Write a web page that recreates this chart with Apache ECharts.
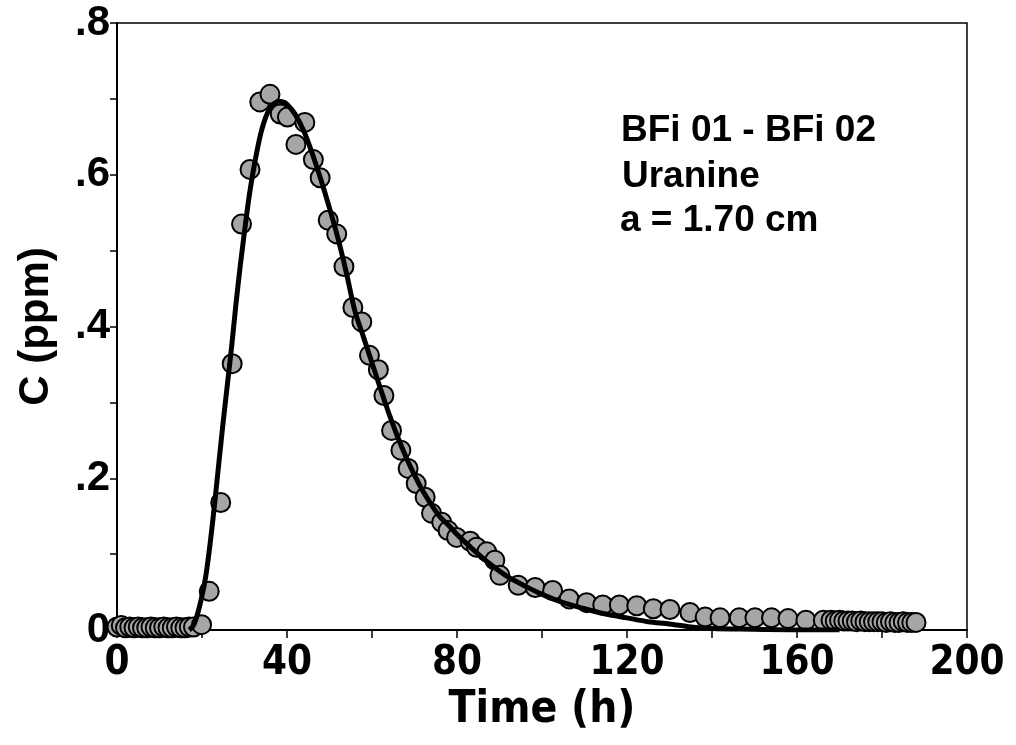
<!DOCTYPE html>
<html>
<head>
<meta charset="utf-8">
<script src="https://cdn.jsdelivr.net/npm/echarts@6/dist/echarts.min.js"></script>
<style>
html,body{margin:0;padding:0;background:#fff;}
#chart{width:1016px;height:745px;}
</style>
</head>
<body>
<div id="chart"></div>
<script>
// Measured concentrations (t in h, C in ppm)
var obsTime = [0,1,2,3,4,5,6,7,8,9,10,11,12,13,14,15,16,17,18,
  19.9,21.7,24.4,27.1,29.3,31.3,33.6,36.0,38.4,40.1,42.1,44.2,46.2,47.8,49.7,51.7,53.4,55.5,57.6,59.4,61.5,62.8,64.6,66.8,
  68.5,70.4,72.5,74.0,76.4,77.9,79.9,83.1,84.6,87.0,88.9,90.1,94.4,98.4,102.5,106.4,110.5,114.3,118.2,122.3,126.2,130.1,
  134.8,138.4,141.9,146.4,150.1,154.0,157.9,162.1,166.2,
  168,169,170,171,172,173,174,175,176,177,178,179,180,181,182,183,184,185,186,187,188];
var obsConc = [0.004,0.006,0.003,0.004,0.003,0.004,0.003,0.003,0.004,0.003,0.003,0.004,0.003,0.003,0.004,0.003,0.003,0.004,0.004,
  0.007,0.051,0.168,0.351,0.535,0.607,0.696,0.706,0.680,0.676,0.640,0.669,0.620,0.596,0.540,0.522,0.479,0.425,0.406,0.362,0.343,0.309,0.263,0.237,
  0.213,0.193,0.175,0.154,0.142,0.131,0.122,0.117,0.109,0.103,0.092,0.072,0.059,0.056,0.052,0.041,0.036,0.033,0.033,0.032,0.028,0.027,
  0.023,0.017,0.016,0.016,0.016,0.016,0.015,0.013,0.013,
  0.013,0.012,0.013,0.012,0.012,0.012,0.011,0.012,0.011,0.011,0.011,0.011,0.011,0.010,0.011,0.010,0.010,0.011,0.010,0.010,0.010];

// Fitted model curve
var fitTime = [17,18,19,20,21,22,23,24,25,26,27,28,29,30,31,32,33,34,35,36,37,38,39,40,42,44,46,48,50,52,54,56,58,60,62,64,66,68,70,72,74,76,78,80,84,88,92,96,100,105,110,115,120,125,130,135,140,150,160,170];
var fitConc = [0,0.006,0.022,0.045,0.075,0.118,0.168,0.222,0.275,0.325,0.375,0.43,0.48,0.525,0.568,0.603,0.633,0.658,0.676,0.688,0.694,0.697,0.696,0.693,0.679,0.657,0.627,0.593,0.556,0.516,0.470,0.420,0.386,0.352,0.318,0.285,0.255,0.228,0.204,0.183,0.165,0.149,0.138,0.126,0.105,0.086,0.070,0.058,0.047,0.036,0.028,0.021,0.016,0.011,0.008,0.004,0.002,0.001,0,0];

var xTickLabels = ['0','40','80','120','160','200'];
var yTickLabels = ['0','.2','.4','.6','.8'];

function zip(a,b){var r=[];for(var i=0;i<a.length;i++)r.push([a[i],b[i]]);return r;}

var narrow = "'Liberation Sans Narrow','DejaVu Sans Condensed','Liberation Sans',sans-serif";
var sans = "'Liberation Sans',Arial,sans-serif";

var chart = echarts.init(document.getElementById('chart'), null, {renderer:'canvas'});
chart.setOption({
  backgroundColor:'#ffffff',
  animation:false,
  grid:{left:117,right:49,top:23,bottom:115,show:true,borderColor:'#000',borderWidth:1.5,backgroundColor:'transparent'},
  xAxis:{
    type:'value',min:0,max:200,interval:20,
    name:'Time (h)',nameLocation:'middle',nameGap:52,
    nameTextStyle:{fontFamily:narrow,fontWeight:'bold',fontSize:44,color:'#000'},
    axisLine:{show:true,lineStyle:{color:'#000',width:2}},
    axisTick:{show:true,inside:false,length:8,lineStyle:{color:'#000',width:1.5}},
    axisLabel:{margin:14,fontFamily:narrow,fontWeight:'bold',fontSize:40,color:'#000',
      formatter:function(v){var i=Math.round(v/40);return (Math.abs(v-i*40)<1e-6)?xTickLabels[i]:'';}},
    splitLine:{show:false}
  },
  yAxis:{
    type:'value',min:0,max:0.8,interval:0.1,
    name:'C (ppm)',nameLocation:'middle',nameGap:60,nameRotate:90,
    nameTextStyle:{fontFamily:sans,fontWeight:'bold',fontSize:42,color:'#000'},
    axisLine:{show:true,lineStyle:{color:'#000',width:2}},
    axisTick:{show:true,inside:false,length:7,lineStyle:{color:'#000',width:1.5}},
    axisLabel:{margin:7,fontFamily:sans,fontWeight:'bold',fontSize:42,color:'#000',
      formatter:function(v){var k=Math.round(v*10);return (k%2===0)?yTickLabels[k/2]:'';}},
    splitLine:{show:false}
  },
  graphic:[
    {type:'text',left:621,top:112,style:{text:'BFi 01 - BFi 02',font:'bold 37px '+sans,fill:'#000'}},
    {type:'text',left:622,top:158,style:{text:'Uranine',font:'bold 37px '+sans,fill:'#000'}},
    {type:'text',left:620,top:202,style:{text:'a = 1.70 cm',font:'bold 37px '+sans,fill:'#000'}}
  ],
  series:[
    {type:'scatter',data:zip(obsTime,obsConc),symbol:'circle',symbolSize:19,z:2,
      itemStyle:{color:'#a6a6a6',borderColor:'#000',borderWidth:2,opacity:1,shadowBlur:0}},
    {type:'line',data:zip(fitTime,fitConc),smooth:0.3,showSymbol:false,symbol:'none',z:3,
      lineStyle:{color:'#000',width:5}}
  ]
});
</script>
</body>
</html>
